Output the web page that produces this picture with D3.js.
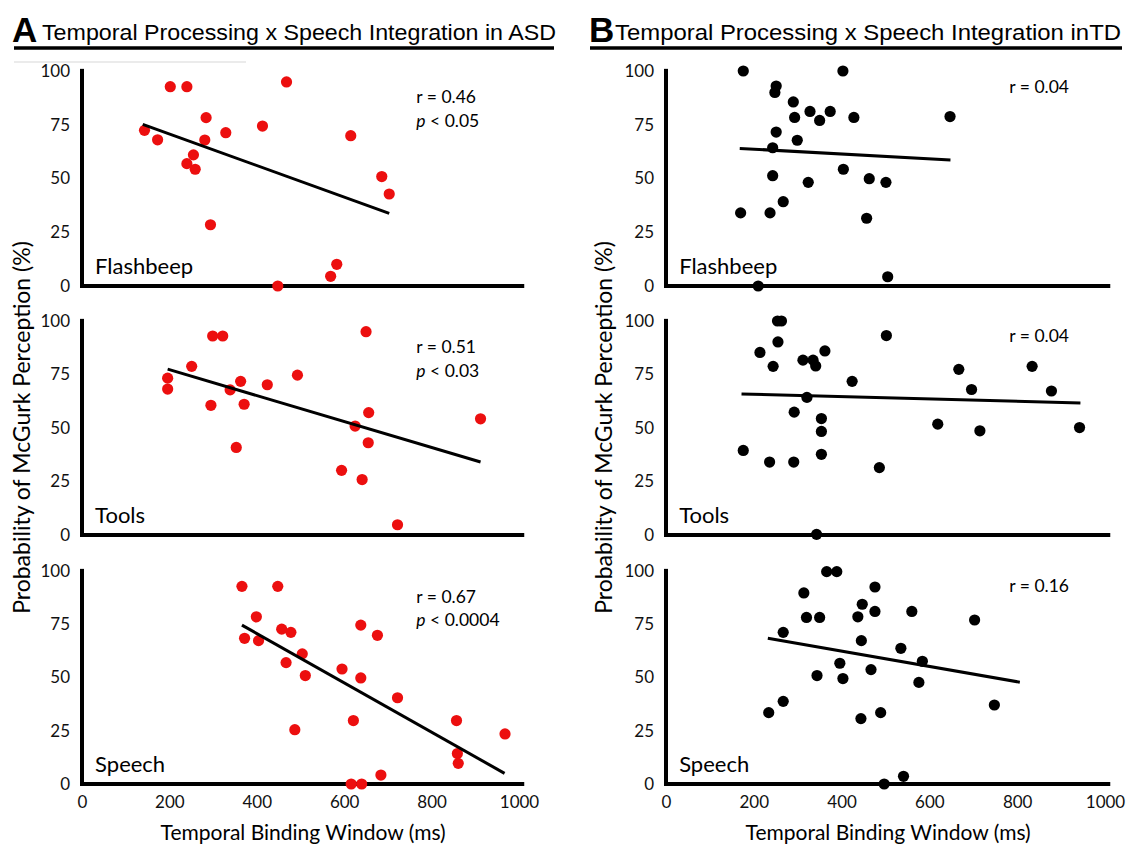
<!DOCTYPE html>
<html>
<head>
<meta charset="utf-8">
<script src="https://cdn.jsdelivr.net/npm/d3@7"></script>
<style>
  html, body { margin: 0; padding: 0; background: #fff; }
  svg { display: block; }
</style>
</head>
<body>
<svg id="chart" width="1129" height="850"></svg>
<script>
// ---- Data: [temporal binding window (ms), McGurk perception (%)] ----
const asdFlashbeep = [[143,72.4],[173,68],[202,92.7],[240,92.7],[284,78.3],[329,71.3],[281,67.9],[255,61],[240,56.9],[259,54.3],[294,28.5],[413,74.4],[468,94.9],[615,69.9],[686,50.9],[703,42.8],[583,10.1],[569,4.5],[448,0]];
const asdTools = [[196,73.3],[196,68.2],[251,78.8],[299,93],[322,93],[295,60.6],[339,67.8],[363,71.8],[371,61.1],[353,40.9],[424,70.2],[493,74.7],[650,95],[656,57.2],[625,50.9],[655,43.1],[594,30.2],[641,25.9],[722,4.8],[912,54.3]];
const asdSpeech = [[366,92.8],[448,92.8],[399,78.5],[372,68.4],[404,67.3],[457,72.7],[478,71.2],[504,61.1],[467,57],[511,50.9],[487,25.5],[595,54],[638,49.8],[638,74.6],[676,69.8],[621,29.8],[616,0],[640,0],[684,4.2],[722,40.5],[857,29.8],[859,14.3],[861,9.7],[968,23.5]];

const tdFlashbeep = [[176,100],[403,100],[251,93],[248,90],[290,85.6],[328,81.2],[374,81.2],[293,78.4],[350,77],[428,78.4],[647,78.8],[251,71.6],[299,67.8],[243,64.3],[243,51.3],[324,48.2],[404,54.3],[463,49.9],[501,48.2],[267,39.2],[170,34],[237,34],[457,31.5],[505,4.3],[210,0]];
const tdTools = [[254,100],[263,100],[255,90.2],[214,85.3],[244,78.8],[312,81.7],[335,81.7],[341,79],[362,86],[321,64.3],[292,57.4],[354,54.4],[354,48.4],[354,37.7],[176,39.5],[236,34.1],[291,34.1],[424,71.8],[502,93.2],[486,31.5],[343,0.3],[619,51.8],[667,77.4],[696,68],[715,48.7],[834,78.8],[878,67.3],[942,50.2]];
const tdSpeech = [[234,33.5],[267,38.8],[267,71.2],[314,89.7],[320,78.2],[350,78.2],[366,99.7],[389,99.7],[344,50.9],[396,56.7],[403,49.5],[437,78.5],[447,84.4],[445,67.3],[476,92.5],[476,81],[467,53.7],[444,30.7],[489,33.5],[497,0],[541,3.6],[535,63.7],[560,81],[584,57.6],[576,47.7],[703,77],[748,37.1]];

// ---- Fitted trend lines: [start, end] in data units ----
const asdFlashbeepFit = [[139,75.2],[703,33.8]];
const asdToolsFit = [[196,77.5],[912,34.1]];
const asdSpeechFit = [[366,74.6],[967,5]];
const tdFlashbeepFit = [[168,64],[648,58.6]];
const tdToolsFit = [[172,65.9],[944,61.7]];
const tdSpeechFit = [[232,68.4],[806,47.8]];

// ---- Labels ----
const conditions = ["Flashbeep", "Tools", "Speech"];
const asdStats = [["0.46","0.05"],["0.51","0.03"],["0.67","0.0004"]];
const tdStats = [["0.04",null],["0.04",null],["0.16",null]];
const yTicks = [0, 25, 50, 75, 100];
const xTicks = [0, 200, 400, 600, 800, 1000];
const groupTitles = ["Temporal Processing x Speech Integration in ASD", "Temporal Processing x Speech Integration inTD"];
const groupLetters = ["A", "B"];
const xTitle = "Temporal Binding Window (ms)";
const yTitle = "Probability of McGurk Perception (%)";

const svg = d3.select("#chart");
const labelFont = "Lato, 'Open Sans', sans-serif";

// Column definitions
const columns = [
  { letter: groupLetters[0], title: groupTitles[0], panels: [asdFlashbeep, asdTools, asdSpeech],
    fits: [asdFlashbeepFit, asdToolsFit, asdSpeechFit], stats: asdStats, color: "#ec0f0f",
    x: d3.scaleLinear().domain([0, 1000]).range([82, 519]), statsAt: 765,
    letterX: 12, titleX: 42, titleEnd: 556, lineX0: 14, lineX1: 554, yTitleX: 21 },
  { letter: groupLetters[1], title: groupTitles[1], panels: [tdFlashbeep, tdTools, tdSpeech],
    fits: [tdFlashbeepFit, tdToolsFit, tdSpeechFit], stats: tdStats, color: "#000",
    x: d3.scaleLinear().domain([0, 1000]).range([666, 1105]), statsAt: 782,
    letterX: 589, titleX: 615, titleEnd: 1121, lineX0: 590, lineX1: 1122, yTitleX: 603 }
];

// Row vertical ranges (y(0) bottom, y(100) top)
const rows = [[286, 71], [535, 321], [784, 571]];

// faint rule under the left heading
svg.append("line").attr("x1", 14).attr("x2", 246).attr("y1", 62).attr("y2", 62)
  .attr("stroke", "#ebebeb").attr("stroke-width", 2);

columns.forEach(col => {
  const x = col.x;
  // Heading
  svg.append("text").attr("x", col.letterX).attr("y", 42)
    .attr("font-family", "'Liberation Sans', Arial, sans-serif").attr("font-weight", "bold")
    .attr("font-size", 35).attr("fill", "#000").text(col.letter);
  svg.append("text").attr("x", col.titleX).attr("y", 40)
    .attr("font-family", "'Liberation Sans', Arial, sans-serif")
    .attr("font-size", 22).attr("fill", "#000")
    .attr("textLength", col.titleEnd - col.titleX).attr("lengthAdjust", "spacingAndGlyphs")
    .text(col.title);
  svg.append("line").attr("x1", col.lineX0).attr("x2", col.lineX1).attr("y1", 48).attr("y2", 48)
    .attr("stroke", "#000").attr("stroke-width", 3.5);

  // Y title
  svg.append("text")
    .attr("transform", `translate(${col.yTitleX},${(rows[0][1] + rows[2][0]) / 2}) rotate(-90)`)
    .attr("text-anchor", "middle").attr("dominant-baseline", "central")
    .attr("font-family", labelFont).attr("font-size", 23).attr("fill", "#000")
    .text(yTitle);

  col.panels.forEach((pts, i) => {
    const y = d3.scaleLinear().domain([0, 100]).range(rows[i]);
    const g = svg.append("g");

    // axis lines
    g.append("line").attr("x1", x(0)).attr("x2", x(0)).attr("y1", y(0) + 2).attr("y2", y(101))
      .attr("stroke", "#000").attr("stroke-width", 4);
    g.append("line").attr("x1", x(0) - 2).attr("x2", x(1012)).attr("y1", y(0)).attr("y2", y(0))
      .attr("stroke", "#000").attr("stroke-width", 4);

    // y tick labels
    const yAxis = d3.axisLeft(y).tickValues(yTicks).tickSize(0).tickPadding(12);
    const ya = g.append("g").attr("transform", `translate(${x(0)},0)`).call(yAxis);
    ya.select(".domain").remove();
    ya.selectAll("text").attr("font-family", labelFont).attr("font-size", 17).attr("fill", "#111");

    // x tick labels on the bottom row
    if (i === 2) {
      const xAxis = d3.axisBottom(x).tickValues(xTicks).tickSize(0).tickPadding(12).tickFormat(d3.format("d"));
      const xa = g.append("g").attr("transform", `translate(0,${y(0)})`).call(xAxis);
      xa.select(".domain").remove();
      xa.selectAll("text").attr("font-family", labelFont).attr("font-size", 17).attr("fill", "#111");
    }

    // condition label
    g.append("text").attr("x", x(30)).attr("y", y(0) - 12)
      .attr("font-family", labelFont).attr("font-size", 22).attr("fill", "#000")
      .text(conditions[i]);

    // points
    g.selectAll("circle").data(pts).join("circle")
      .attr("cx", d => x(d[0])).attr("cy", d => y(d[1])).attr("r", 5.6)
      .attr("fill", col.color);

    // trend line
    const fit = col.fits[i];
    g.append("line")
      .attr("x1", x(fit[0][0])).attr("y1", y(fit[0][1]))
      .attr("x2", x(fit[1][0])).attr("y2", y(fit[1][1]))
      .attr("stroke", "#000").attr("stroke-width", 3);

    // statistics
    const [rVal, pVal] = col.stats[i];
    const sx = x(col.statsAt);
    g.append("text").attr("x", sx).attr("y", y(pVal ? 85 : 90))
      .attr("font-family", labelFont).attr("font-size", 17.5).attr("fill", "#000")
      .text(`r = ${rVal}`);
    if (pVal) {
      const t2 = g.append("text").attr("x", sx).attr("y", y(74))
        .attr("font-family", labelFont).attr("font-size", 17.5).attr("fill", "#000");
      t2.append("tspan").attr("font-style", "italic").text("p");
      t2.append("tspan").text(` < ${pVal}`);
    }
  });

  // X title
  svg.append("text").attr("x", (x(0) + x(1012)) / 2).attr("y", 840)
    .attr("text-anchor", "middle")
    .attr("font-family", labelFont).attr("font-size", 21).attr("fill", "#000")
    .text(xTitle);
});
</script>
</body>
</html>
